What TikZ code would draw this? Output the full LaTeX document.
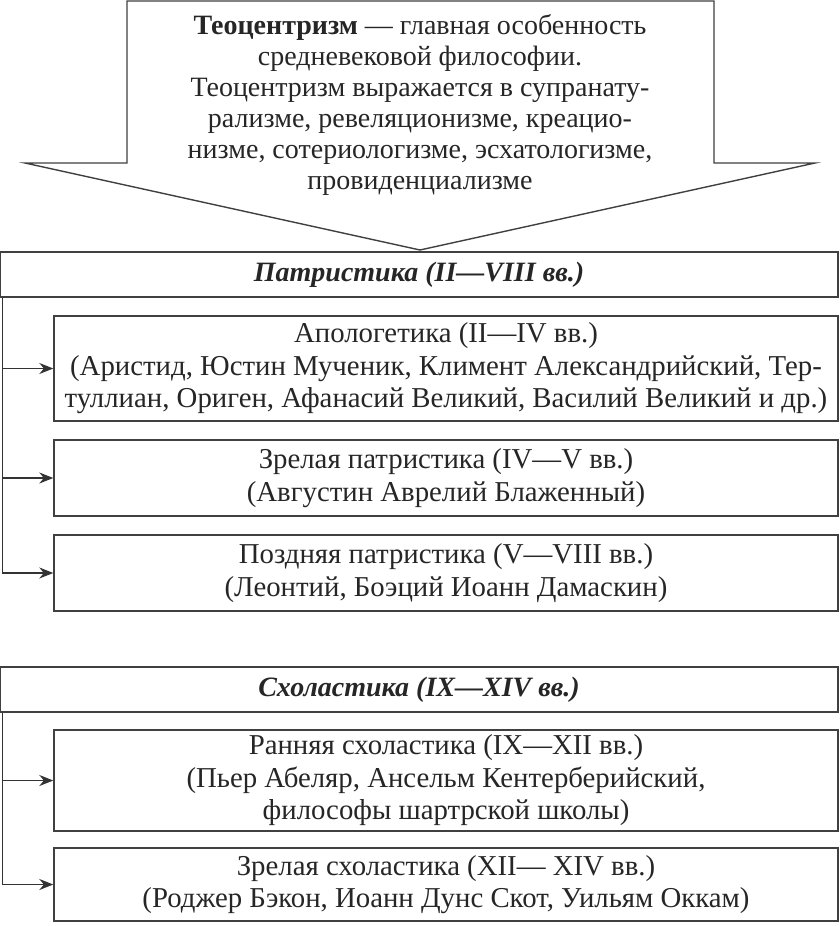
\documentclass[tikz,border=0pt]{standalone}
\usepackage{fontspec}
\setmainfont{Liberation Serif}
\usetikzlibrary{arrows.meta, positioning}

\begin{document}
\begin{tikzpicture}[x=0.5pt, y=-0.5pt,
    every node/.style={font=\fontsize{14.4}{16.25}\selectfont, text=black!85},
    period/.style={rectangle, draw=black!75, fill=white, line width=0.7pt, minimum width=419pt, minimum height=22.5pt, inner sep=0pt, font=\fontsize{14}{16}\selectfont\bfseries\itshape},
    stage/.style={rectangle, draw=black!75, fill=white, line width=0.7pt, minimum width=392pt, inner sep=0pt, align=center},
    feed/.style={-{Stealth[length=7pt, width=5.5pt]}, draw=black!80, line width=0.7pt}
]
\useasboundingbox (0,0) rectangle (840,926);

% Big downward arrow (theocentrism)
\draw[draw=black!75, fill=white, line width=0.7pt]
    (127,1) -- (714,1) -- (714,163) -- (815,163) -- (420,250) -- (25,163) -- (127,163) -- cycle;
\node[align=center, font=\fontsize{14}{15.5}\selectfont] (theo) at (420,105)
    {\textbf{Теоцентризм} — главная особенность\\
     средневековой философии.\\
     Теоцентризм выражается в супранату-\\
     рализме, ревеляционизме, креацио-\\
     низме, сотериологизме, эсхатологизме,\\
     провиденциализме};

% Patristics
\node[period] (patr) at (419,274.5) {Патристика (II—VIII вв.)};
\node[stage, minimum height=52.5pt] (apol) at (446,368.5)
    {Апологетика (II—IV вв.)\\
     (Аристид, Юстин Мученик, Климент Александрийский, Тер-\\
     туллиан, Ориген, Афанасий Великий, Василий Великий и др.)};
\node[stage, minimum height=38pt] (maturep) at (446,478)
    {Зрелая патристика (IV—V вв.)\\
     (Августин Аврелий Блаженный)};
\node[stage, minimum height=38pt] (latep) at (446,573)
    {Поздняя патристика (V—VIII вв.)\\
     (Леонтий, Боэций Иоанн Дамаскин)};

\draw[feed] ([xshift=1.5pt]patr.south west) |- (apol.west);
\draw[feed] ([xshift=1.5pt]patr.south west) |- (maturep.west);
\draw[feed] ([xshift=1.5pt]patr.south west) |- (latep.west);

% Scholastics
\node[period] (schol) at (419,689.5) {Схоластика (IX—XIV вв.)};
\node[stage, minimum height=50.5pt] (earlys) at (446,780.5)
    {Ранняя схоластика (IX—XII вв.)\\
     (Пьер Абеляр, Ансельм Кентерберийский,\\
     философы шартрской школы)};
\node[stage, minimum height=36.5pt] (matures) at (446,884.5)
    {Зрелая схоластика (XII— XIV вв.)\\
     (Роджер Бэкон, Иоанн Дунс Скот, Уильям Оккам)};

\draw[feed] ([xshift=1.5pt]schol.south west) |- (earlys.west);
\draw[feed] ([xshift=1.5pt]schol.south west) |- (matures.west);

\end{tikzpicture}
\end{document}
